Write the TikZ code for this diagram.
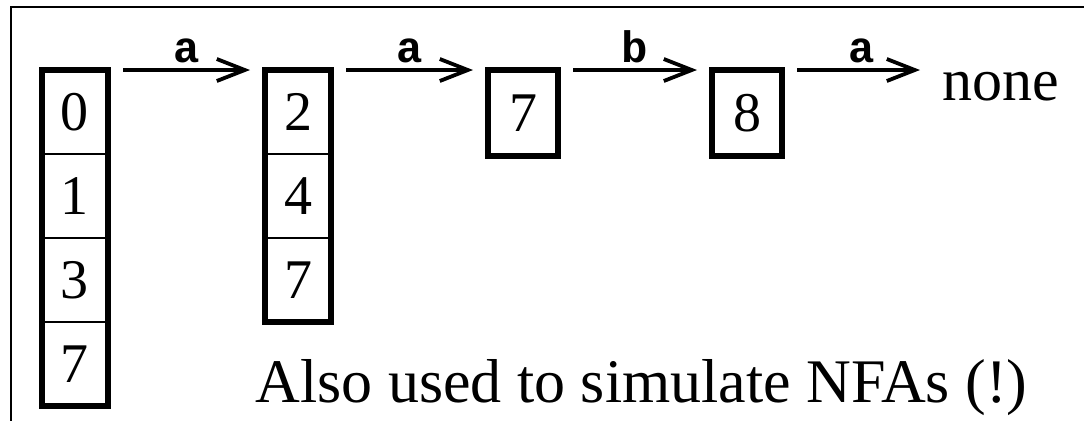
\documentclass[tikz,border=0pt]{standalone}
\usepackage{fontspec}
\setmainfont{Liberation Serif}
\setmonofont{Liberation Mono}
\usetikzlibrary{arrows.meta, positioning, fit}

\begin{document}
\begin{tikzpicture}[
    x=0.5pt, y=-0.5pt,
    font=\fontsize{30}{34}\selectfont,
    stateCell/.style={draw, line width=0.8pt, minimum width=33pt, minimum height=42pt, inner sep=0pt, outer sep=0pt, font=\fontsize{28}{32}\selectfont},
    stateSet/.style={draw, line width=2.6pt, inner sep=0pt, outer sep=0pt},
    moveArrow/.style={-{Straight Barb[length=14pt, width=11pt]}, line width=1.9pt, shorten <=7.5pt, shorten >=7.5pt},
    symLabel/.style={above, inner sep=2.5pt, font=\fontsize{22}{24}\selectfont\ttfamily\bfseries}
]

% Page frame (only top and left edges show)
\path[use as bounding box] (0,0) rectangle (1084,420);
\clip (0,0) rectangle (1084,420);
\draw[line width=1.3pt] (11,7) rectangle (1100,440);

% Set 1: {0,1,3,7}
\node[stateCell] (s0a) at (75,112) {0};
\node[stateCell, below=0pt of s0a] (s0b) {1};
\node[stateCell, below=0pt of s0b] (s0c) {3};
\node[stateCell, below=0pt of s0c] (s0d) {7};
\node[stateSet, fit=(s0a) (s0d)] (set0) {};

% Set 2: {2,4,7}
\node[stateCell] (s1a) at (298,112) {2};
\node[stateCell, below=0pt of s1a] (s1b) {4};
\node[stateCell, below=0pt of s1b] (s1c) {7};
\node[stateSet, fit=(s1a) (s1c)] (set1) {};

% Set 3: {7}
\node[stateCell, minimum width=35pt, minimum height=43pt] (s2a) at (523,113) {7};
\node[stateSet, fit=(s2a)] (set2) {};

% Set 4: {8}
\node[stateCell, minimum width=35pt, minimum height=43pt] (s3a) at (747,113) {8};
\node[stateSet, fit=(s3a)] (set3) {};

\node[anchor=base west, inner sep=0pt] (none) at (942,100) {none};

% Transitions
\draw[moveArrow] (set0.north east) -- node[symLabel] {a} (set1.north west);
\draw[moveArrow] (set1.north east) -- node[symLabel] {a} (set2.north west);
\draw[moveArrow] (set2.north east) -- node[symLabel] {b} (set3.north west);
\draw[moveArrow, shorten >=11pt] (set3.north east) -- node[symLabel] {a} (none.west |- set3.north);

\node[anchor=base west, inner sep=0pt, font=\fontsize{31}{35}\selectfont] (note) at (255,402) {Also used to simulate NFAs (!)};

\end{tikzpicture}
\end{document}
